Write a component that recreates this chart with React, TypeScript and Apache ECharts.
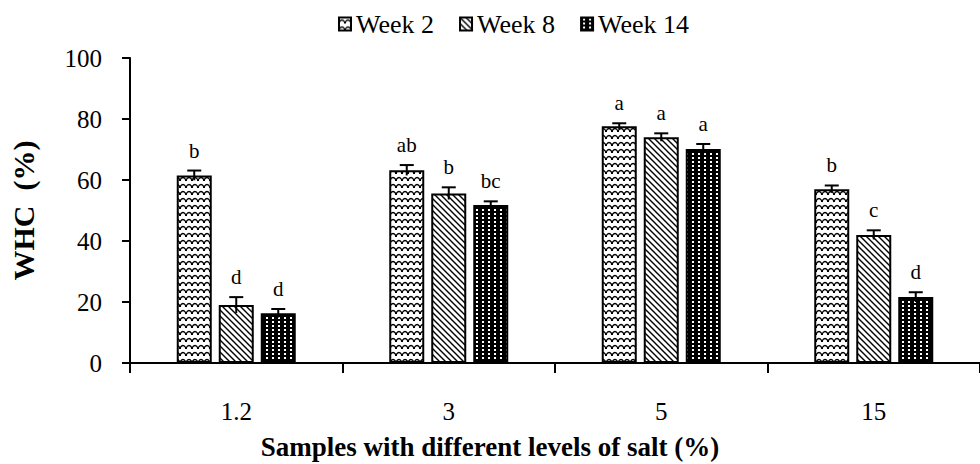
import React, { useEffect, useRef } from 'react';
import * as echarts from 'echarts';

const categories = ['1.2', '3', '5', '15'];
const seriesNames = ['Week 2', 'Week 8', 'Week 14'];
const week2 = [61.5, 63.2, 77.6, 57.0];
const week8 = [19.0, 55.6, 74.0, 42.0];
const week14 = [16.3, 51.8, 70.2, 21.6];
const week2Err = [1.6, 1.7, 1.0, 1.2];
const week8Err = [2.6, 2.0, 1.3, 1.5];
const week14Err = [1.4, 1.2, 1.6, 1.6];
const week2Letters = ['b', 'ab', 'a', 'b'];
const week8Letters = ['d', 'b', 'a', 'c'];
const week14Letters = ['d', 'bc', 'a', 'd'];
const yMin = 0;
const yMax = 100;
const yStep = 20;
const yName = 'WHC  (%)';
const xName = 'Samples with different levels of salt (%)';

const FONT = 'Liberation Serif';

function makeTile(kind: number): string {
  const c = document.createElement('canvas');
  const ctx = c.getContext('2d')!;
  if (kind === 0) {
    c.width = 12; c.height = 7;
    ctx.fillStyle = '#fff'; ctx.fillRect(0, 0, 12, 7);
    ctx.strokeStyle = '#000'; ctx.lineWidth = 1.3;
    ctx.beginPath();
    ctx.moveTo(0, 5); ctx.quadraticCurveTo(3, 0, 6, 5); ctx.quadraticCurveTo(9, 0, 12, 5);
    ctx.stroke();
    ctx.fillStyle = '#000';
    ctx.fillRect(5, 4, 2, 2);
    ctx.fillRect(0, 4, 1, 2);
    ctx.fillRect(11, 4, 1, 2);
  } else if (kind === 1) {
    c.width = 6; c.height = 6;
    ctx.fillStyle = '#fff'; ctx.fillRect(0, 0, 6, 6);
    ctx.strokeStyle = '#000'; ctx.lineWidth = 1.4;
    ctx.beginPath();
    ctx.moveTo(-1, -1); ctx.lineTo(7, 7);
    ctx.moveTo(-1, 5); ctx.lineTo(1, 7);
    ctx.moveTo(5, -1); ctx.lineTo(7, 1);
    ctx.stroke();
  } else {
    c.width = 6; c.height = 4;
    ctx.fillStyle = '#000'; ctx.fillRect(0, 0, 6, 4);
    ctx.fillStyle = '#fff';
    ctx.fillRect(2, 1, 2, 2);
  }
  return c.toDataURL();
}

export default function App() {
  const ref = useRef<HTMLDivElement>(null);
  useEffect(() => {
    document.body.style.margin = '0';
    const el = ref.current!;
    const chart = echarts.init(el, null, { renderer: 'svg' });
    const values = [week2, week8, week14];
    const errs = [week2Err, week8Err, week14Err];
    const letters = [week2Letters, week8Letters, week14Letters];
    const barWidth = 35;
    const gapPx = 7;
    const offsets = [-(barWidth + gapPx), 0, barWidth + gapPx];

    const barSeries = seriesNames.map((name, i) => ({
      name,
      type: 'bar',
      data: values[i],
      barWidth,
      barGap: '20%',
      itemStyle: {
        color: { image: makeTile(i), repeat: 'repeat' },
        borderColor: '#000',
        borderWidth: 2,
      },
      z: 2,
    }));

    const errSeries = seriesNames.map((name, i) => ({
      name: 'err-' + name,
      type: 'custom',
      z: 5,
      data: values[i].map((v, k) => [k, v, errs[i][k]]),
      renderItem: (params: any, api: any) => {
        const k = api.value(0);
        const v = api.value(1);
        const e = api.value(2);
        const top = api.coord([k, v + e]);
        const bot = api.coord([k, v - e]);
        const x = top[0] + offsets[i];
        const letter = letters[i][params.dataIndex];
        return {
          type: 'group',
          children: [
            { type: 'line', shape: { x1: x, y1: bot[1], x2: x, y2: top[1] }, style: { stroke: '#000', lineWidth: 2 } },
            { type: 'line', shape: { x1: x - 7, y1: top[1], x2: x + 7, y2: top[1] }, style: { stroke: '#000', lineWidth: 2 } },
            { type: 'text', x, y: top[1] - 20, style: { text: letter, fill: '#000', font: '21px ' + FONT, textAlign: 'center', textVerticalAlign: 'middle' } },
          ],
        };
      },
    }));

    chart.setOption({
      animation: false,
      backgroundColor: '#fff',
      textStyle: { fontFamily: FONT },
      legend: {
        data: seriesNames,
        left: 333,
        top: 6,
        itemWidth: 12,
        itemHeight: 13,
        itemGap: 25,
        icon: 'rect',
        textStyle: { fontFamily: FONT, fontSize: 26, color: '#000' },
      },
      grid: { left: 130, right: -10, top: 58, bottom: 101, containLabel: false },
      xAxis: {
        type: 'category',
        data: categories,
        axisLine: { lineStyle: { color: '#000', width: 2 } },
        axisTick: { show: true, length: 10, lineStyle: { color: '#000', width: 2 } },
        axisLabel: { margin: 36, fontFamily: FONT, fontSize: 25, color: '#000' },
      },
      yAxis: {
        type: 'value',
        min: yMin,
        max: yMax,
        interval: yStep,
        splitLine: { show: false },
        axisLine: { show: true, lineStyle: { color: '#000', width: 2 } },
        axisTick: { show: true, length: 8, lineStyle: { color: '#000', width: 2 } },
        axisLabel: { margin: 28, fontFamily: FONT, fontSize: 25, color: '#000' },
        name: yName,
        nameLocation: 'middle',
        nameGap: 92,
        nameTextStyle: { fontFamily: FONT, fontSize: 30, fontWeight: 'bold', color: '#000' },
      },
      graphic: [
        {
          type: 'text',
          x: 490,
          y: 447,
          style: { text: xName, font: 'bold 27px ' + FONT, fill: '#000', textAlign: 'center', textVerticalAlign: 'middle' },
        },
      ],
      series: [...barSeries, ...errSeries],
    });
    return () => chart.dispose();
  }, []);
  return <div ref={ref} style={{ width: 980, height: 464 }} />;
}
